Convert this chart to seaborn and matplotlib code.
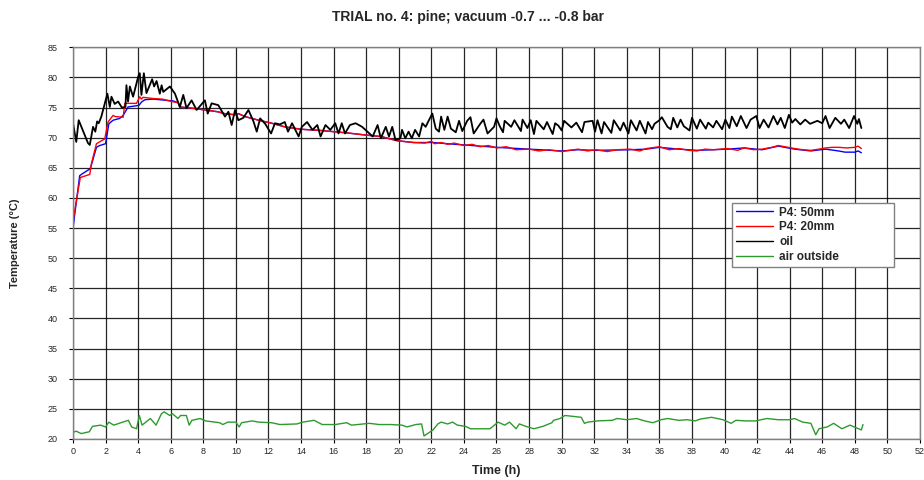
import matplotlib
matplotlib.use("Agg")
import matplotlib.pyplot as plt
import seaborn as sns
import pandas as pd

title = "TRIAL no. 4: pine; vacuum -0.7 ... -0.8 bar"
x_label = "Time (h)"
y_label = "Temperature (°C)"
x_ticks = list(range(0, 53, 2))
y_ticks = list(range(20, 86, 5))

# P4: 50mm (blue)
t_p50 = [0, 0.41, 0.62, 1.03, 1.09, 1.44, 1.64, 2.0, 2.2, 2.46, 2.87, 3.08, 3.38, 3.9, 4.06, 4.2,
         4.41, 4.92, 5.74, 6.15, 6.46, 6.56, 7.28, 8.1, 8.9, 9.3, 9.95, 10.15, 10.56, 11.4, 12.2,
         13.0, 14.0, 15.2, 16.8, 18.1, 18.9, 19.9, 20.9, 22.1, 23.0, 24.0, 25.0, 26.0, 28.0, 30.0,
         31.0, 32.1, 34.2, 35.2, 36.0, 37.2, 38.3, 39.3, 40.2, 41.2, 42.3, 43.3, 43.7, 44.3, 45.3,
         46.2, 47.0, 47.4, 48.0, 48.2, 48.4]
v_p50 = [55.0, 63.7, 64.1, 64.8, 65.1, 68.4, 68.7, 69.0, 72.3, 72.9, 73.2, 73.7, 75.1, 75.3, 75.4, 75.9,
         76.3, 76.4, 76.2, 76.1, 75.8, 75.1, 74.9, 74.6, 74.3, 74.0, 73.8, 74.0, 73.5, 72.9, 72.4,
         71.8, 71.4, 71.2, 70.8, 70.4, 70.2, 69.5, 69.2, 69.2, 69.0, 68.8, 68.6, 68.4, 68.1, 67.8,
         68.0, 67.9, 68.0, 68.1, 68.4, 68.1, 67.9, 68.0, 68.1, 68.3, 68.0, 68.6, 68.4, 68.1, 67.8,
         68.1, 67.8, 67.6, 67.6, 67.8, 67.5]

# P4: 20mm (red)
t_p20 = [0, 0.45, 1.03, 1.13, 1.44, 1.95, 2.15, 2.46, 2.6, 3.08, 3.18, 3.9, 4.1, 4.2, 4.3, 4.92, 5.5,
         6.05, 6.46, 6.56, 7.28, 8.1, 8.9, 9.3, 9.95, 10.15, 10.56, 11.4, 12.2, 13.0, 14.0, 15.2,
         16.8, 18.1, 18.9, 19.9, 20.9, 21.6, 22.0, 22.2, 22.6, 23.0, 23.4, 24.0, 24.5, 25.0, 25.5,
         26.0, 26.6, 27.2, 28.0, 28.6, 29.2, 30.0, 30.5, 31.0, 31.6, 32.1, 32.8, 33.4, 34.2, 34.8,
         35.2, 36.0, 36.6, 37.2, 37.8, 38.3, 38.8, 39.3, 40.2, 40.8, 41.2, 41.8, 42.3, 42.9, 43.3,
         43.7, 44.3, 44.8, 45.3, 45.8, 46.2, 46.6, 47.0, 47.5, 48.0, 48.2, 48.4]
v_p20 = [56.2, 63.4, 63.9, 65.7, 69.0, 69.8, 72.6, 73.7, 73.5, 73.4, 75.7, 75.7, 76.8, 76.4, 76.7, 76.5,
         76.4, 76.0, 75.8, 75.1, 74.9, 74.6, 74.3, 74.0, 73.8, 74.0, 73.5, 72.9, 72.4, 71.8, 71.4,
         71.2, 70.8, 70.4, 70.2, 69.5, 69.2, 69.1, 69.4, 69.0, 69.2, 68.9, 69.1, 68.7, 68.9, 68.5,
         68.7, 68.3, 68.5, 68.0, 68.1, 67.8, 68.0, 67.7, 67.9, 68.1, 67.8, 68.0, 67.7, 68.0, 68.1,
         67.8, 68.2, 68.5, 68.0, 68.2, 67.9, 67.8, 68.1, 68.0, 68.2, 67.9, 68.3, 68.0, 68.1, 68.4,
         68.7, 68.5, 68.2, 68.0, 67.9, 68.1, 68.3, 68.4, 68.4, 68.3, 68.4, 68.6, 68.2]

# oil (black), first part 0 - 26 h
t_oil_a = [0, 0.2, 0.35, 0.92, 1.03, 1.23, 1.37, 1.48, 1.58, 1.74, 2.11, 2.26, 2.36, 2.56, 2.77, 3.0,
           3.22, 3.28, 3.38, 3.49, 3.69, 4.0, 4.1, 4.2, 4.35, 4.51, 4.86, 4.98, 5.13, 5.33, 5.44, 5.54,
           5.95, 6.26, 6.56, 6.77, 6.97, 7.28, 7.59, 8.1, 8.27, 8.51, 8.92, 9.33, 9.54, 9.74, 9.95,
           10.15, 10.46, 10.77, 11.08, 11.28, 11.49, 11.8, 12.16, 12.4, 12.7,
           13.0, 13.2, 13.45, 13.85, 14.05, 14.37, 14.7, 15.0, 15.2, 15.5, 15.8, 16.1, 16.3, 16.5,
           16.7, 17.0, 17.35, 17.75, 18.2, 18.4, 18.7, 18.9, 19.2, 19.4, 19.6, 19.8, 20.1, 20.2,
           20.4, 20.6, 20.8, 21.0, 21.25, 21.45, 21.65, 21.85, 22.06, 22.27, 22.47, 22.6, 22.8,
           23.0, 23.2, 23.5, 23.7, 23.9, 24.2, 24.4, 24.6, 25.0, 25.2, 25.45, 25.85, 26.0]
v_oil_a = [72.4, 69.3, 72.9, 69.1, 68.8, 71.8, 71.0, 72.7, 72.4, 73.5, 77.3, 75.1, 76.8, 75.6, 76.0, 75.0,
           75.1, 78.7, 76.0, 78.5, 76.8, 80.1, 80.7, 77.1, 80.7, 77.4, 79.7, 78.5, 79.4, 77.3, 78.7, 77.6,
           78.5, 77.3, 75.1, 77.1, 74.9, 76.2, 74.6, 76.2, 74.0, 75.7, 75.4, 73.5, 74.3, 72.1, 74.6,
           72.9, 73.3, 74.6, 72.7, 71.0, 73.2, 72.3, 70.7, 72.4, 72.2,
           72.6, 71.0, 72.4, 70.2, 71.8, 72.6, 71.3, 72.1, 70.2, 72.1, 71.3, 72.4, 70.7, 72.4,
           70.7, 72.1, 72.4, 71.8, 70.7, 70.2, 72.1, 69.9, 71.8, 70.2, 71.8, 69.6, 69.9, 71.3,
           69.9, 71.0, 69.9, 71.3, 70.2, 72.4, 71.8, 72.9, 74.0, 71.5, 71.0, 73.5, 71.3,
           73.5, 71.5, 70.9, 72.8, 71.1, 72.8, 73.4, 70.7, 72.3, 73.0, 70.7, 71.8, 73.2]

# oil (black), second part 26 - 48.4 h
t_oil_b = [26.2, 26.4, 26.5, 26.9, 27.1, 27.5, 27.6, 27.9, 28.1, 28.3,
           28.45, 28.9, 29.1, 29.45, 29.6, 29.8, 30.0, 30.15, 30.6, 30.9,
           31.25, 31.4, 31.9, 32.05, 32.2, 32.45, 32.6, 33.05, 33.2, 33.6,
           33.8, 34.1, 34.25, 34.6, 34.8, 35.15, 35.3, 35.55, 35.7, 36.0,
           36.15, 36.5, 36.7, 36.85, 37.1, 37.3, 37.5, 37.85, 38.0, 38.3,
           38.5, 38.85, 39.0, 39.3, 39.5, 39.85, 40.05, 40.3, 40.45, 40.75,
           41.0, 41.35, 41.6, 41.95, 42.15, 42.4, 42.7, 43.0, 43.25, 43.45,
           43.7, 43.95, 44.15, 44.35, 44.65, 44.95, 45.25, 45.7, 46.0, 46.2,
           46.45, 46.8, 47.15, 47.35, 47.65, 47.95, 48.15, 48.25, 48.4]
v_oil_b = [71.9, 70.9, 72.8, 71.8, 72.9, 71.1, 73.0, 71.6, 72.9, 70.6,
           72.8, 71.4, 72.6, 70.6, 72.4, 72.0, 71.2, 72.8, 71.7, 72.5,
           70.9, 72.6, 72.8, 71.0, 72.9, 70.7, 72.6, 70.8, 72.9, 71.2,
           72.5, 70.7, 72.9, 71.2, 72.8, 70.7, 72.6, 71.4, 72.3, 72.9,
           73.4, 71.8, 71.4, 73.3, 71.7, 73.0, 71.9, 71.2, 73.3, 71.5,
           73.0, 71.5, 72.5, 71.7, 72.8, 71.4, 73.0, 71.6, 73.5, 71.9,
           73.6, 71.6, 73.0, 73.6, 71.6, 73.0, 71.7, 73.6, 72.2, 73.3,
           71.6, 73.8, 72.5, 73.1, 72.2, 73.0, 72.3, 72.8, 72.4, 73.6,
           71.6, 73.3, 72.3, 73.0, 71.6, 73.6, 72.3, 73.1, 71.6]

# air outside (green)
t_air = [0, 0.2, 0.5, 1.0, 1.2, 1.7, 2.0, 2.2, 2.5, 3.05, 3.4, 3.6, 3.9, 4.07, 4.24, 4.75, 5.1,
         5.43, 5.6, 5.94, 6.1, 6.45, 6.6, 6.96, 7.13, 7.3, 7.8, 8.15, 9.0, 9.2, 9.5, 10.0, 10.2,
         10.35, 11.0, 11.4, 12.2, 12.7, 13.75, 14.1, 14.8, 15.3, 16.1, 16.8, 17.1, 18.2, 18.8,
         19.5, 20.2, 20.5, 21.05, 21.4, 21.55, 22.1, 22.4, 22.6, 23.0, 23.3, 23.6, 24.1, 24.4,
         25.6, 26.1, 26.5, 26.8, 27.2, 27.4, 27.8, 28.3, 28.85, 29.4, 29.5, 29.9, 30.2, 30.55,
         31.2, 31.4, 31.6, 32.2, 33.1, 33.4, 34.0, 34.6, 35.1, 35.6, 36.1, 36.5, 37.2, 37.7,
         38.2, 38.5, 39.2, 39.9, 40.4, 40.7, 41.3, 41.9, 42.6, 43.3, 44.0, 44.3, 44.8, 45.3,
         45.6, 45.8, 46.3, 46.7, 47.2, 47.7, 48.4, 48.5]
v_air = [21.1, 21.3, 20.9, 21.2, 22.1, 22.3, 22.0, 22.8, 22.3, 22.8, 23.1, 22.0, 21.7, 23.9, 22.3, 23.4,
         22.3, 24.2, 24.5, 23.9, 24.2, 23.4, 23.9, 23.9, 22.3, 23.1, 23.4, 23.0, 22.7, 22.4, 22.8,
         22.8, 22.0, 22.7, 23.0, 22.8, 22.7, 22.4, 22.5, 22.8, 23.1, 22.4, 22.4, 22.7, 22.3, 22.6,
         22.4, 22.4, 22.3, 22.0, 22.4, 22.5, 20.5, 21.5, 22.5, 22.8, 22.5, 22.8, 22.3, 22.1, 21.7,
         21.7, 22.8, 22.3, 22.8, 21.7, 22.5, 22.1, 21.7, 22.1, 22.7, 23.1, 23.4, 23.9, 23.8,
         23.6, 22.6, 22.8, 23.0, 23.1, 23.4, 23.2, 23.4, 23.0, 22.7, 23.2, 23.4, 23.1, 23.2,
         23.0, 23.3, 23.6, 23.2, 22.6, 23.1, 23.0, 23.0, 23.4, 23.2, 23.2, 23.4, 22.8, 22.6,
         20.7, 21.7, 22.0, 22.6, 21.7, 22.3, 21.5, 22.4]

series = [
    ("P4: 50mm", t_p50, v_p50, "#0000ff", 1.0),
    ("P4: 20mm", t_p20, v_p20, "#ff0000", 1.0),
    ("oil", t_oil_a + t_oil_b, v_oil_a + v_oil_b, "#000000", 1.3),
    ("air outside", t_air, v_air, "#2e9a2e", 1.0),
]

sns.set_theme(style="white")
plt.rcParams["font.family"] = ["Liberation Sans", "DejaVu Sans"]

fig = plt.figure(figsize=(9.24, 4.8), dpi=100)
ax = fig.add_axes([73 / 924, 1 - 439 / 480, 847 / 924, 391.7 / 480])

for name, t, v, col, lw in series:
    df = pd.DataFrame({"t": t, "v": v})
    sns.lineplot(data=df, x="t", y="v", ax=ax, color=col, linewidth=lw,
                 estimator=None, sort=False, label=name)

ax.set_xlim(0, 52)
ax.set_ylim(20, 85)
ax.set_xticks(x_ticks)
ax.set_yticks(y_ticks)
ax.set_xticklabels([str(v) for v in x_ticks], fontsize=6.5)
ax.set_yticklabels([str(v) for v in y_ticks], fontsize=6.5)
ax.tick_params(axis="x", which="both", length=3, width=0.8, color="#000000",
               direction="out", pad=3, bottom=True)
ax.tick_params(axis="y", which="both", length=3, width=0.8, color="#000000",
               direction="out", pad=8, left=True)
ax.grid(True, color="#000000", linewidth=0.9, alpha=0.85)
ax.set_axisbelow(True)
for s in ax.spines.values():
    s.set_color("#808080")
    s.set_linewidth(1.0)

ax.set_xlabel(x_label, fontsize=9, fontweight="bold", labelpad=6)
ax.set_ylabel(y_label, fontsize=8, fontweight="bold", labelpad=20)
fig.text(0.507, 0.965, title, fontsize=10, fontweight="bold", ha="center", va="center")

leg = ax.legend(loc="upper left", bbox_to_anchor=(0.778, 0.4136, 0.191, 0.189), mode="expand",
                frameon=True, fancybox=False, fontsize=8.5, handlelength=3.2, borderpad=0.3,
                labelspacing=0.25, handletextpad=0.5, borderaxespad=0)
leg.get_frame().set_edgecolor("#808080")
leg.get_frame().set_linewidth(1.0)
leg.get_frame().set_facecolor("white")
leg.get_frame().set_alpha(1)
for txt in leg.get_texts():
    txt.set_fontweight("bold")
for line in leg.get_lines():
    line.set_linewidth(1.0)

fig.savefig("out.png", dpi=100)
